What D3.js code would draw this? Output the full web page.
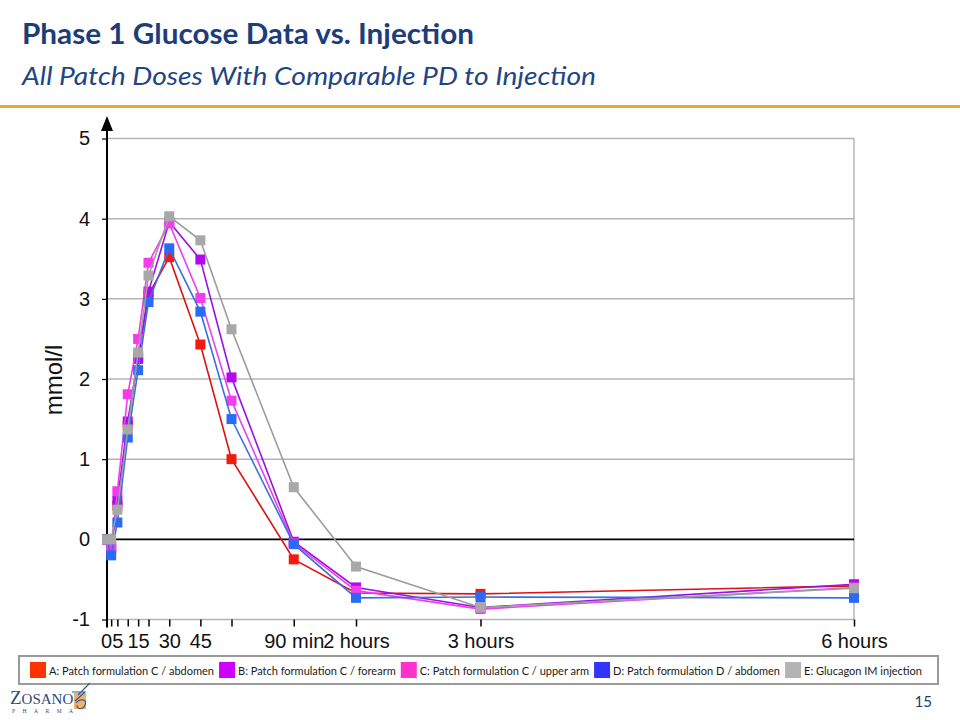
<!DOCTYPE html>
<html>
<head>
<meta charset="utf-8">
<script src="https://cdn.jsdelivr.net/npm/d3@7"></script>
<style>
  html, body { margin: 0; padding: 0; background: #ffffff; }
  svg { display: block; }
</style>
</head>
<body>
<svg id="chart" width="960" height="720"></svg>
<script>
// ---------------- DATA ----------------
const times = [0, 2, 5, 10, 15, 20, 30, 45, 60, 90, 120, 180, 360];
const seriesNames = [
  "A: Patch formulation C / abdomen",
  "B: Patch formulation C / forearm",
  "C: Patch formulation C / upper arm",
  "D: Patch formulation D / abdomen",
  "E: Glucagon IM injection"
];
const valuesA = [0, -0.08, 0.42, 1.42, 2.28, 3.05, 3.52, 2.43, 1.00, -0.25, -0.67, -0.68, -0.58];
const valuesB = [0, -0.12, 0.48, 1.47, 2.25, 3.09, 3.96, 3.49, 2.02, -0.03, -0.60, -0.85, -0.56];
const valuesC = [0, -0.10, 0.60, 1.81, 2.50, 3.45, 3.94, 3.01, 1.73, -0.05, -0.64, -0.87, -0.60];
const valuesD = [0, -0.20, 0.21, 1.27, 2.11, 2.96, 3.63, 2.84, 1.50, -0.06, -0.73, -0.72, -0.73];
const valuesE = [0, 0.00, 0.37, 1.37, 2.33, 3.29, 4.03, 3.73, 2.62, 0.65, -0.34, -0.85, -0.61];
const yTicks = [-1, 0, 1, 2, 3, 4, 5];
const xTickMarks = [2, 5, 10, 15, 20, 30, 45, 60, 90, 120, 180, 360];
const xLabelValues = [0, 5, 15, 30, 45, 90, 120, 180, 360];
const xLabelTexts = ["0", "5", "15", "30", "45", "90 min", "2 hours", "3 hours", "6 hours"];
const yAxisTitle = "mmol/l";
const titleText = "Phase 1 Glucose Data vs. Injection";
const subtitleText = "All Patch Doses With Comparable PD to Injection";
const pageNumber = "15";

// ---------------- STYLE ----------------
const markerColors = ["#f41a10", "#b008f0", "#f53cec", "#2a6af5", "#a8a8a8"];
const lineColors   = ["#e01010", "#9a10e8", "#ec40ea", "#3a70e0", "#9c9c9c"];
const legendColors = ["#ff3300", "#cc00ff", "#ff33cc", "#3333ff", "#b4b4b4"];
const navy = "#1c3d7a";

const svg = d3.select("#chart");

// Title
svg.append("text").attr("x", 22).attr("y", 44)
  .attr("font-family", "Lato, 'Open Sans', sans-serif").attr("font-weight", "bold")
  .attr("font-size", 28).attr("fill", navy)
  .attr("textLength", 452).attr("lengthAdjust", "spacingAndGlyphs")
  .text(titleText);
svg.append("text").attr("x", 22).attr("y", 85)
  .attr("font-family", "Lato, 'Open Sans', sans-serif").attr("font-style", "italic")
  .attr("font-size", 25).attr("fill", "#1f4585")
  .attr("textLength", 574).attr("lengthAdjust", "spacingAndGlyphs")
  .text(subtitleText);
svg.append("rect").attr("x", 0).attr("y", 105).attr("width", 960).attr("height", 3)
  .attr("fill", "#f0a431");

// Scales
const x = d3.scaleLinear().domain([0, 360]).range([107, 854]);
const y = d3.scaleLinear().domain([-1, 5]).range([619.5, 138.5]);

const g = svg.append("g");

// Gridlines
g.selectAll("line.grid").data(yTicks.filter(v => v !== 0)).enter().append("line")
  .attr("x1", x(0)).attr("x2", x(360))
  .attr("y1", d => y(d)).attr("y2", d => y(d))
  .attr("stroke", "#b4b4b4").attr("stroke-width", 1.5);
// right border
g.append("line").attr("x1", x(360)).attr("x2", x(360)).attr("y1", y(5)).attr("y2", y(-1))
  .attr("stroke", "#b4b4b4").attr("stroke-width", 1.5);
// zero line
g.append("line").attr("x1", x(0)).attr("x2", x(360)).attr("y1", y(0)).attr("y2", y(0))
  .attr("stroke", "#000").attr("stroke-width", 1.8);

// X tick marks (axis, no labels)
const xAxisTicks = d3.axisBottom(x).tickValues(xTickMarks).tickSize(7).tickFormat(() => "");
const gxt = svg.append("g").attr("transform", `translate(0,${y(-1)})`).call(xAxisTicks);
gxt.select(".domain").remove();
gxt.selectAll(".tick line").attr("stroke", "#000").attr("stroke-width", 1.5);

// X labels (axis, no tick marks)
const xAxisLabels = d3.axisBottom(x).tickValues(xLabelValues).tickSize(0).tickPadding(10)
  .tickFormat((d, i) => xLabelTexts[i]);
const gxl = svg.append("g").attr("transform", `translate(0,${y(-1) + 4})`).call(xAxisLabels);
gxl.select(".domain").remove();
gxl.selectAll(".tick text").attr("font-family", "'Liberation Sans', Arial, sans-serif")
  .attr("font-size", 20).attr("fill", "#111");
gxl.selectAll(".tick").filter(d => d === 0).select("text").attr("dx", -1);

// Y axis
const yAxis = d3.axisLeft(y).tickValues(yTicks).tickSize(5).tickPadding(10).tickFormat(d => String(d));
const gy = svg.append("g").attr("transform", `translate(${x(0)},0)`).call(yAxis);
gy.select(".domain").remove();
gy.selectAll(".tick line").attr("stroke", "#000").attr("stroke-width", 1.2);
gy.selectAll(".tick text").attr("font-family", "'Liberation Sans', Arial, sans-serif")
  .attr("font-size", 20).attr("fill", "#111").attr("dx", -2);
// axis line with arrow
svg.append("line").attr("x1", x(0)).attr("x2", x(0)).attr("y1", 126).attr("y2", y(-1) + 8)
  .attr("stroke", "#000").attr("stroke-width", 2);
svg.append("path")
  .attr("d", `M${x(0)},116 L${x(0) - 6},131 L${x(0) + 6},131 Z`)
  .attr("fill", "#000");

// Y title
svg.append("text")
  .attr("transform", `translate(62,380) rotate(-90)`)
  .attr("text-anchor", "middle")
  .attr("font-family", "'Liberation Sans', Arial, sans-serif")
  .attr("font-size", 24).attr("fill", "#111")
  .text(yAxisTitle);

// Series
const allValues = [valuesA, valuesB, valuesC, valuesD, valuesE];
const line = d3.line().x(d => x(d.t)).y(d => y(d.v));
allValues.forEach((vals, i) => {
  const pts = times.map((t, k) => ({ t: t, v: vals[k] }));
  const sg = svg.append("g");
  sg.append("path").datum(pts).attr("d", line)
    .attr("fill", "none").attr("stroke", lineColors[i]).attr("stroke-width", 1.6);
  const s = 10;
  sg.selectAll("rect").data(pts).enter().append("rect")
    .attr("x", d => x(d.t) - s / 2).attr("y", d => y(d.v) - s / 2)
    .attr("width", s).attr("height", s)
    .attr("fill", markerColors[i]);
});

// Legend
const legendBox = { x: 19, y: 656, w: 919, h: 28 };
svg.append("rect").attr("x", legendBox.x).attr("y", legendBox.y)
  .attr("width", legendBox.w).attr("height", legendBox.h)
  .attr("fill", "#fff").attr("stroke", "#9a9a9a").attr("stroke-width", 2);
const lg = svg.append("g");
const items = lg.selectAll("g").data(seriesNames).enter().append("g");
items.append("rect").attr("width", 16).attr("height", 16).attr("y", legendBox.y + 6)
  .attr("fill", (d, i) => legendColors[i]);
items.append("text").attr("y", legendBox.y + 18.5)
  .attr("font-family", "Lato, 'Open Sans', sans-serif").attr("font-size", 11)
  .attr("fill", "#1a1a1a").text(d => d);
const widths = [];
items.select("text").each(function () { widths.push(this.getComputedTextLength()); });
const startX = 30, endX = 922, swGap = 3;
const natural = widths.reduce((a, w) => a + 16 + swGap + w, 0);
const gap = Math.max(3, (endX - startX - natural) / (seriesNames.length - 1));
let cx = startX;
items.each(function (d, i) {
  const it = d3.select(this);
  it.select("rect").attr("x", cx);
  it.select("text").attr("x", cx + 16 + swGap);
  cx += 16 + swGap + widths[i] + gap;
});

// Page number
svg.append("text").attr("x", 932).attr("y", 707).attr("text-anchor", "end")
  .attr("font-family", "Lato, 'Open Sans', sans-serif").attr("font-size", 15)
  .attr("fill", navy).text(pageNumber);

// Logo
const logo = svg.append("g");
logo.append("text").attr("x", 10).attr("y", 704)
  .attr("font-family", "'Liberation Serif', 'DejaVu Serif', serif")
  .attr("fill", "#2b4a7c")
  .html('<tspan font-size="19">Z</tspan><tspan font-size="15">OSANO</tspan>');
logo.append("text").attr("x", 12).attr("y", 713)
  .attr("font-family", "'Liberation Serif', serif").attr("font-size", 5.5)
  .attr("fill", "#2b4a7c").attr("letter-spacing", 7.5).text("PHARMA");
logo.append("rect").attr("x", 74).attr("y", 693).attr("width", 12).attr("height", 16)
  .attr("fill", "#f2b06a");
logo.append("path")
  .attr("d", "M72,692 L85,692 L75,701 M76,703 C80,698 88,699 85,705 C83,710 77,710 77,705 M78,695 L90,683")
  .attr("fill", "none").attr("stroke", "#2b5a8c").attr("stroke-width", 1.1);
</script>
</body>
</html>
